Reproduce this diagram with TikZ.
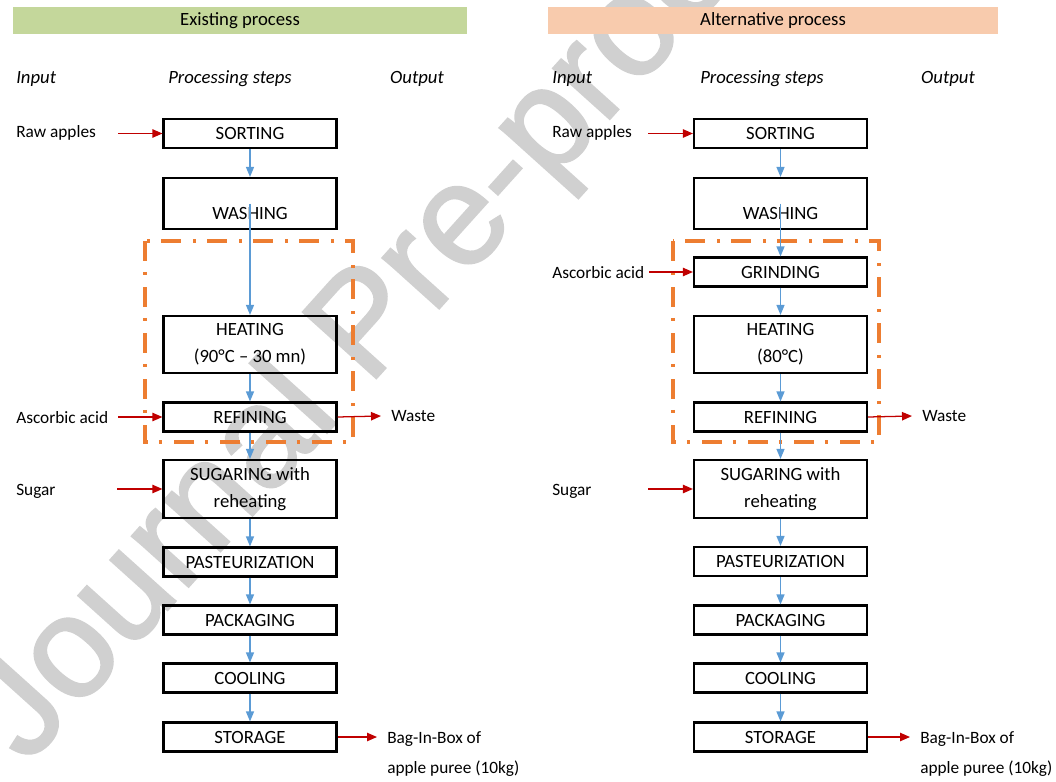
\documentclass[tikz,border=0pt]{standalone}
\usepackage{fontspec}
\setmainfont{Carlito}
\newfontfamily\markfont[FakeBold=1.6]{Liberation Sans}
\usepackage{tikz}
\usetikzlibrary{arrows.meta,positioning}
\definecolor{bargreen}{HTML}{C4D79B}
\definecolor{barorange}{HTML}{F8CBAD}
\definecolor{flowblue}{HTML}{5B9BD5}
\definecolor{feedred}{HTML}{C00000}
\definecolor{zoneorange}{HTML}{ED7D31}
\definecolor{markgray}{HTML}{D0D0D0}
\tikzset{
  every node/.style={font=\fontsize{13.3}{19.2}\selectfont},
  stepbox/.style={draw=black,line width=1.5pt,minimum width=4.325cm,minimum height=0.725cm,
                  inner sep=0pt,align=center},
  tallbox/.style={stepbox,minimum height=1.425cm},
  banner/.style={minimum height=0.675cm,inner sep=0pt},
  head/.style={font=\fontsize{13.3}{16}\selectfont\itshape,inner sep=0pt},
  side/.style={font=\fontsize{12.3}{21.3}\selectfont,inner sep=0pt},
  outlab/.style={side,inner xsep=0.25cm},
  flow/.style={-{Triangle[length=2.5mm,width=2mm]},draw=flowblue,line width=0.9pt},
  feed/.style={-{Triangle[length=2.5mm,width=2.1mm]},draw=feedred,line width=0.9pt},
  zone/.style={draw=zoneorange,line width=2.8pt,
               dash pattern=on 0.5cm off 0.27cm on 0.08cm off 0.3cm},
}

\begin{document}
\begin{tikzpicture}[x=0.025cm,y=-0.025cm]
\useasboundingbox (0,0) rectangle (1056,781);

% watermark
\node[font=\markfont\fontsize{102}{102}\selectfont,color=markgray,rotate=48,
      anchor=base west,inner sep=0pt] (mark) at (27,766) {Journal Pre-proof};

% banners and column heads
\node[banner,fill=bargreen,minimum width=11.35cm] (ex) at (240,20.5) {Existing process};
\node[banner,fill=barorange,minimum width=11.25cm] (al) at (773,20.5) {Alternative process};
\node[head,anchor=west] (in1) at (16,79) {Input};
\node[head] (ps1) at (230,79) {Processing steps};
\node[head] (ou1) at (417,79) {Output};
\node[head,anchor=west] (in2) at (552,79) {Input};
\node[head] (ps2) at (762,79) {Processing steps};
\node[head] (ou2) at (948,79) {Output};

% zones
\draw[zone] (145,241) rectangle (353,442);
\draw[zone] (673,241) rectangle (879,442);

% existing process
\node[stepbox] (so1) at (250,133.5) {SORTING};
\node[stepbox,minimum height=1.275cm,text height=0.775cm,text depth=0pt] (wa1) at (250,203.5) {WASHING};
\node[tallbox] (he1) at (250,344.5) {HEATING\\(90°C – 30 mn)};
\node[stepbox] (re1) at (250,417) {REFINING};
\node[tallbox,minimum height=1.45cm] (su1) at (250,489) {SUGARING with\\reheating};
\node[stepbox] (pa1) at (250,562) {PASTEURIZATION};
\node[stepbox] (pk1) at (250,620) {PACKAGING};
\node[stepbox] (co1) at (250,678) {COOLING};
\node[stepbox] (st1) at (250,737) {STORAGE};
\draw[flow] (so1) -- (wa1);
\draw[flow] (wa1.center) -- (he1);
\draw[flow] (he1) -- (re1);
\draw[flow] (re1) -- (su1);
\draw[flow] (su1) -- (pa1);
\draw[flow] (pa1) -- (pk1);
\draw[flow] (pk1) -- (co1);
\draw[flow] (co1) -- (st1);

\node[side,anchor=west] (raw1) at (16,133) {Raw apples};
\node[side,anchor=west] (asc1) at (16,418) {Ascorbic acid};
\node[side,anchor=west] (sug1) at (16,491) {Sugar};
\coordinate (rawin1) at (118,133.5);
\coordinate (ascin1) at (118,417);
\coordinate (sugin1) at (117,489);
\draw[feed] (rawin1) -- (so1.west);
\draw[feed] (ascin1) -- (re1.west);
\draw[feed] (sugin1) -- (su1.west);
\node[outlab,anchor=west] (was1) at (381,416) {Waste};
\node[outlab,anchor=north west,align=left] (bag1) at (377,731) {Bag-In-Box of\\apple puree (10kg)};
\draw[feed] (re1.east) -- (was1.west);
\draw[feed] (st1.east) -- (st1.east -| bag1.west);

% alternative process
\node[stepbox] (so2) at (780.5,133.5) {SORTING};
\node[stepbox,minimum height=1.275cm,text height=0.775cm,text depth=0pt] (wa2) at (780.5,203.5) {WASHING};
\node[stepbox] (gr2) at (780.5,272) {GRINDING};
\node[tallbox] (he2) at (780.5,344.5) {HEATING\\(80°C)};
\node[stepbox] (re2) at (780.5,417) {REFINING};
\node[tallbox,minimum height=1.45cm] (su2) at (780.5,489) {SUGARING with\\reheating};
\node[stepbox] (pa2) at (780.5,561.5) {PASTEURIZATION};
\node[stepbox] (pk2) at (780.5,620) {PACKAGING};
\node[stepbox] (co2) at (780.5,678) {COOLING};
\node[stepbox] (st2) at (780.5,737) {STORAGE};
\draw[flow] (so2) -- (wa2);
\draw[flow] (wa2.center) -- (gr2);
\draw[flow] (gr2) -- (he2);
\draw[flow] (he2) -- (re2);
\draw[flow] (re2) -- (su2);
\draw[flow] (su2) -- (pa2);
\draw[flow] (pa2) -- (pk2);
\draw[flow] (pk2) -- (co2);
\draw[flow] (co2) -- (st2);

\node[side,anchor=west] (raw2) at (552,133) {Raw apples};
\node[side,anchor=west] (asc2) at (552,273) {Ascorbic acid};
\node[side,anchor=west] (sug2) at (552,491) {Sugar};
\coordinate (rawin2) at (648,133.5);
\coordinate (ascin2) at (649,272);
\coordinate (sugin2) at (648,489);
\draw[feed] (rawin2) -- (so2.west);
\draw[feed] (ascin2) -- (gr2.west);
\draw[feed] (sugin2) -- (su2.west);
\node[outlab,anchor=west] (was2) at (912,416) {Waste};
\node[outlab,anchor=north west,align=left] (bag2) at (910,731) {Bag-In-Box of\\apple puree (10kg)};
\draw[feed] (re2.east) -- (was2.west);
\draw[feed] (st2.east) -- (st2.east -| bag2.west);
\end{tikzpicture}
\end{document}
